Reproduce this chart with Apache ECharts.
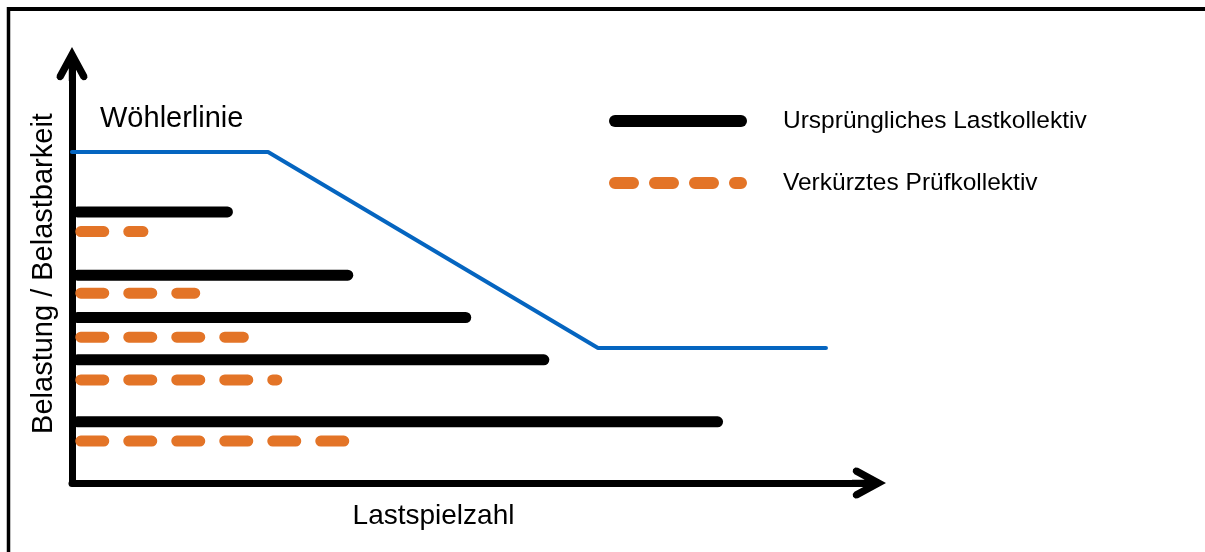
<!DOCTYPE html>
<html lang="de">
<head>
    <meta charset="UTF-8">
    <title>Wöhlerlinie und Lastkollektive</title>
    <style>
        html, body { margin: 0; padding: 0; background: #fff; }
    </style>
</head>
<body>
    <div id="card" style="width: 1205px;height:552px;"></div>
    <script src="https://cdn.jsdelivr.net/npm/echarts@6/dist/echarts.min.js"></script>
    <script>
        // Wöhlerlinie (Knickpunkte)
        var woehlerX = [0, 24.6, 66.0, 94.6];
        var woehlerY = [79.0, 79.0, 32.2, 32.2];

        // Ursprüngliches Lastkollektiv: Stufenhöhe und Länge
        var originalLevels = [64.7, 49.6, 39.5, 29.4, 14.6];
        var originalEnds = [19.5, 34.6, 49.4, 59.2, 81.0];
        var originalStart = 0.7;

        // Verkürztes Prüfkollektiv
        var shortLevels = [60.0, 45.3, 34.8, 24.6, 10.0];
        var shortEnds = [8.9, 15.4, 21.5, 25.7, 34.1];
        var shortStart = 1.1;

        var names = ['Ursprüngliches Lastkollektiv', 'Verkürztes Prüfkollektiv'];
        var font = 'Liberation Sans';

        var series = [{
            name: 'Wöhlerlinie',
            type: 'line',
            symbol: 'none',
            silent: true,
            lineStyle: { color: '#0565C0', width: 4, cap: 'round' },
            data: woehlerX.map(function (x, i) { return [x, woehlerY[i]]; })
        }];

        originalLevels.forEach(function (y, i) {
            series.push({
                name: names[0],
                type: 'line',
                symbol: 'none',
                silent: true,
                lineStyle: { color: '#000', width: 11, cap: 'round' },
                data: [[originalStart, y], [originalEnds[i], y]]
            });
        });

        shortLevels.forEach(function (y, i) {
            series.push({
                name: names[1],
                type: 'line',
                symbol: 'none',
                silent: true,
                lineStyle: { color: '#E37427', width: 11, cap: 'round', type: [23, 25] },
                data: [[shortStart, y], [shortEnds[i], y]]
            });
        });

        // Pfeilspitze: offener Winkel mit runden Enden und Schaft
        var arrow = 'path://M18 0 L34.5 30.5 L34.8 33.5 L32.9 35.9 L29.9 36.2 L27.5 34.3 ' +
            'L21.5 23.2 L21.5 37 L14.5 37 L14.5 23.2 L8.5 34.3 L6.1 36.2 L3.1 35.9 L1.2 33.5 L1.5 30.5 Z';
        var axisLine = {
            show: true,
            onZero: false,
            symbol: ['none', arrow],
            symbolSize: [33, 34],
            lineStyle: { color: '#000', width: 7 }
        };

        var option = {
            backgroundColor: '#fff',
            animation: false,
            textStyle: { fontFamily: font, color: '#000' },
            title: {
                text: 'Wöhlerlinie',
                left: 100,
                top: 104,
                padding: 0,
                textStyle: { fontFamily: font, fontSize: 29, fontWeight: 'normal', color: '#000' }
            },
            legend: {
                orient: 'vertical',
                left: 609,
                top: 106,
                padding: 0,
                itemWidth: 126,
                itemHeight: 24,
                itemGap: 32,
                selectedMode: false,
                textStyle: { fontFamily: font, fontSize: 24.5, lineHeight: 24, color: '#000', padding: [6, 0, 0, 37] },
                data: [{
                    name: names[0],
                    itemStyle: { opacity: 0 },
                    lineStyle: { width: 12 }
                }, {
                    name: names[1],
                    itemStyle: { opacity: 0 },
                    lineStyle: { width: 12, type: [18, 22] }
                }]
            },
            grid: { left: 72, right: 336, top: 64, bottom: 69 },
            xAxis: {
                type: 'value',
                min: 0,
                max: 100,
                name: 'Lastspielzahl',
                nameLocation: 'middle',
                nameGap: 19,
                nameTextStyle: { fontFamily: font, fontSize: 28, color: '#000', padding: [0, 74, 0, 0] },
                axisLine: axisLine,
                axisTick: { show: false },
                axisLabel: { show: false },
                splitLine: { show: false }
            },
            yAxis: {
                type: 'value',
                min: 0,
                max: 100,
                name: 'Belastung / Belastbarkeit',
                nameLocation: 'middle',
                nameGap: 14,
                nameTextStyle: { fontFamily: font, fontSize: 29, color: '#000' },
                axisLine: axisLine,
                axisTick: { show: false },
                axisLabel: { show: false },
                splitLine: { show: false }
            },
            graphic: [{
                type: 'line',
                silent: true,
                shape: { x1: 7, y1: 9, x2: 1205, y2: 9 },
                style: { stroke: '#000', lineWidth: 4 }
            }, {
                type: 'line',
                silent: true,
                shape: { x1: 8.5, y1: 7, x2: 8.5, y2: 552 },
                style: { stroke: '#000', lineWidth: 3.5 }
            }],
            series: series
        };

        var myChart = echarts.init(document.querySelector('#card'));
        myChart.setOption(option);
    </script>
</body>
</html>
